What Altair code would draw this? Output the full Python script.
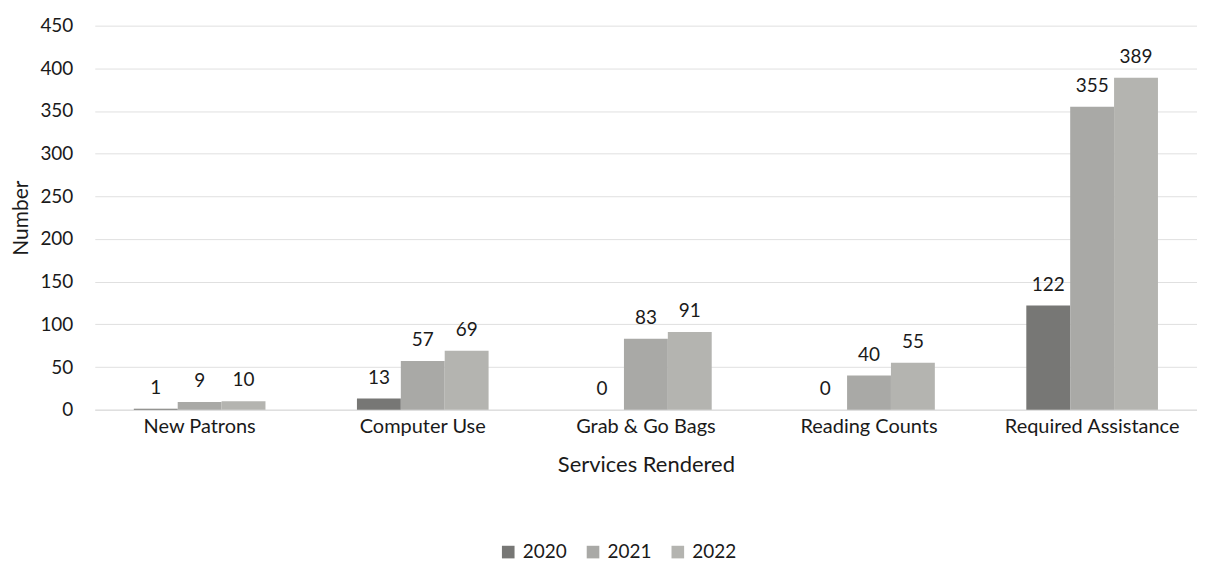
import altair as alt
import pandas as pd

categories = ["New Patrons", "Computer Use", "Grab & Go Bags", "Reading Counts", "Required Assistance"]
years = ["2020", "2021", "2022"]
values_2020 = [1, 13, 0, 0, 122]
values_2021 = [9, 57, 83, 40, 355]
values_2022 = [10, 69, 91, 55, 389]
colors = ["#777775", "#a9a9a6", "#b4b4b0"]

rows = []
for yr, vals in zip(years, [values_2020, values_2021, values_2022]):
    for c, v in zip(categories, vals):
        rows.append({"category": c, "year": yr, "value": v})
df = pd.DataFrame(rows)

FONT = "Lato"
TXT = "#1a1a1a"

x = alt.X("category:N", sort=categories,
          scale=alt.Scale(paddingInner=0.41, paddingOuter=0.175),
          axis=alt.Axis(title="Services Rendered", labelAngle=0, labelFontSize=20,
                        labelPadding=7, titleFontSize=22, titlePadding=18,
                        titleFontWeight="normal", ticks=False, domain=True,
                        domainColor="#d9d9d9", labelColor=TXT, titleColor=TXT))
xo = alt.XOffset("year:N", sort=years, scale=alt.Scale(paddingInner=0, paddingOuter=0))
y = alt.Y("value:Q", scale=alt.Scale(domain=[0, 450]),
          axis=alt.Axis(title="Number", values=list(range(0, 451, 50)), labelFontSize=19,
                        labelPadding=22, titleFontSize=21, titlePadding=8,
                        titleFontWeight="normal", ticks=False, domain=False,
                        gridColor="#e0e0e0", labelColor=TXT, titleColor=TXT))
color = alt.Color("year:N", sort=years, scale=alt.Scale(domain=years, range=colors),
                  legend=alt.Legend(title=None, orient="none", legendX=405, legendY=518,
                                    direction="horizontal", symbolType="square",
                                    symbolSize=160, symbolStrokeWidth=0, labelFontSize=19,
                                    labelColor=TXT, columnPadding=16, labelOffset=5))

base = alt.Chart(df)
bars = base.mark_bar().encode(x=x, xOffset=xo, y=y, color=color)
labels = base.mark_text(dy=-21, fontSize=19, color=TXT, font=FONT).encode(
    x=x, xOffset=xo, y=y, text="value:Q")

chart = (bars + labels).properties(
    width=1105, height=385,
    autosize=alt.AutoSizeParams(type="none"),
    padding={"left": 87, "top": 17, "right": 0, "bottom": 157},
).configure(font=FONT).configure_view(stroke=None).configure_axis(labelFont=FONT, titleFont=FONT)

chart.save("out.html", embed_options={"renderer": "svg", "actions": False})
